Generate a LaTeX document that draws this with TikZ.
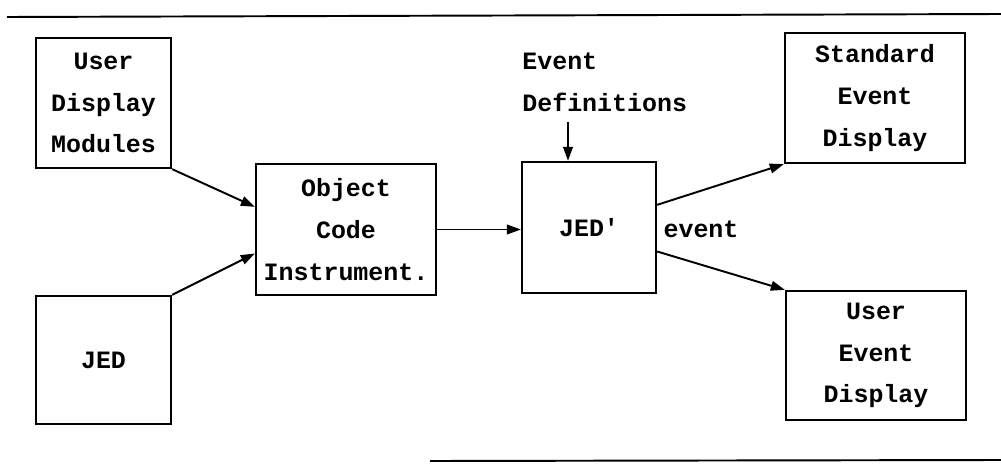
\documentclass[tikz,border=0pt]{standalone}
\usepackage{fontspec}
\setmonofont{Liberation Mono}
\usetikzlibrary{arrows.meta,calc}

\tikzset{
	blk/.style={draw, line width=1.3pt, align=center, inner sep=0pt},
	txt/.style={font=\ttfamily\bfseries\fontsize{14.2}{23.7}\selectfont},
	arr/.style={line width=1.1pt, -{Triangle[length=8pt,width=5.5pt]}},
}

\begin{document}
\begin{tikzpicture}[x=0.02cm, y=-0.02cm, txt]

	\useasboundingbox (0,0) rectangle (1001,466);

	% rules above and below
	\draw[line width=1.1pt] (7,17) -- (1001,14);
	\draw[line width=1.1pt] (430,461) -- (1001,460);

	\node[blk, minimum width=2.7cm, minimum height=2.6cm] (udm) at (103.5,103) {User\\Display\\Modules};
	\node[blk, minimum width=2.7cm, minimum height=2.56cm] (jed) at (103.5,360) {JED};
	\node[blk, minimum width=3.6cm, minimum height=2.62cm] (oci) at (346,229.5) {Object\\Code\\Instrument.};
	\node[blk, minimum width=2.68cm, minimum height=2.62cm] (jedp) at (589,227.5) {JED'};
	\node[blk, minimum width=3.6cm, minimum height=2.6cm] (sed) at (875,98) {Standard\\Event\\Display};
	\node[blk, minimum width=3.6cm, minimum height=2.58cm] (ued) at (876,355.5) {User\\Event\\Display};

	\node[anchor=west, align=left, inner sep=0pt] (defs) at (522,82) {Event\\Definitions};
	\node[inner sep=0pt] (ev) at (701,229) {event};
	\coordinate (defsin) at (568,122);

	\draw[arr] (udm.south east) -- ($(oci.north west)!0.33!(oci.south west)$);
	\draw[arr] (jed.north east) -- ($(oci.north west)!0.68!(oci.south west)$);
	\draw[arr] (oci.east) -- (oci.east -| jedp.west);
	\draw[arr] (defsin) -- (defsin |- jedp.north);
	\draw[arr] ($(jedp.north east)!0.33!(jedp.south east)$) -- (sed.south west);
	\draw[arr] ($(jedp.north east)!0.68!(jedp.south east)$) -- (ued.north west);
%	\node at (589,250) {};

\end{tikzpicture}
\end{document}
